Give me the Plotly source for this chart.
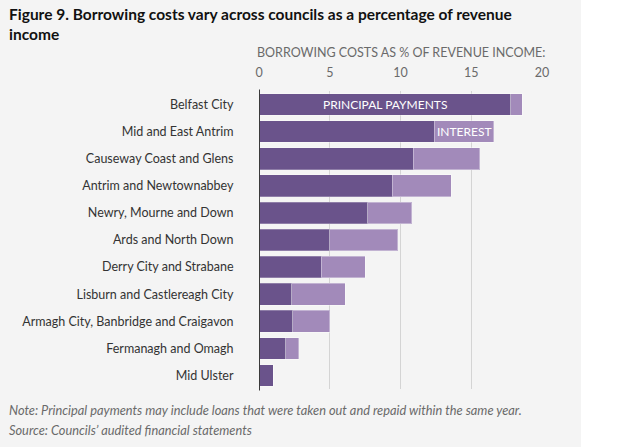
import plotly.graph_objects as go

councils = [
    "Belfast City",
    "Mid and East Antrim",
    "Causeway Coast and Glens",
    "Antrim and Newtownabbey",
    "Newry, Mourne and Down",
    "Ards and North Down",
    "Derry City and Strabane",
    "Lisburn and Castlereagh City",
    "Armagh City, Banbridge and Craigavon",
    "Fermanagh and Omagh",
    "Mid Ulster",
]
principal = [17.8, 12.4, 10.9, 9.4, 7.7, 5.0, 4.4, 2.3, 2.4, 1.9, 1.0]
interest = [0.8, 4.2, 4.7, 4.2, 3.1, 4.8, 3.1, 3.8, 2.6, 0.9, 0.0]
tick_vals = [0, 5, 10, 15, 20]

PRINC_COL = "#6a538b"
INT_COL = "#a28aba"
FONT = "Lato"

fig = go.Figure()
fig.add_trace(go.Bar(
    y=councils, x=principal, orientation="h", name="Principal payments",
    marker=dict(color=PRINC_COL, line=dict(color="rgba(255,255,255,0.25)", width=1)),
    hoverinfo="x+y",
))
fig.add_trace(go.Bar(
    y=councils, x=interest, orientation="h", name="Interest",
    marker=dict(color=INT_COL, line=dict(color="rgba(255,255,255,0.35)", width=1)),
    hoverinfo="x+y",
))

L, R, T, B = 259, 78, 91, 58
W, H = 620, 447
pw = W - L - R
ph = H - T - B

fig.update_layout(
    width=W, height=H,
    barmode="stack", bargap=0.2,
    showlegend=False,
    paper_bgcolor="white", plot_bgcolor="rgba(0,0,0,0)",
    margin=dict(l=L, r=R, t=T, b=B, autoexpand=False),
    font=dict(family=FONT, size=12, color="#333333"),
    xaxis=dict(
        range=[0, 20], side="top", tickvals=tick_vals,
        tickfont=dict(size=12.5, color="#6a6a6a"),
        ticks="outside", ticklen=8, tickcolor="rgba(0,0,0,0)",
        showgrid=True, gridcolor="#d4d4d4", gridwidth=1,
        zeroline=False, showline=False, fixedrange=True,
    ),
    yaxis=dict(
        autorange="reversed", ticks="outside", ticklen=22,
        tickcolor="rgba(0,0,0,0)", tickfont=dict(size=12.5, color="#333333"),
        showgrid=False, zeroline=False, showline=False,
    ),
    shapes=[
        dict(type="rect", xref="paper", yref="paper", layer="below",
             x0=-L / pw - 0.1, x1=(581 - L) / pw, y0=-2, y1=3,
             fillcolor="#f4f4f4", line=dict(width=0)),
        dict(type="line", xref="x", yref="paper", layer="above",
             x0=0, x1=0, y0=-0.005, y1=1.005,
             line=dict(color="#3a3a3a", width=2)),
    ],
)

annotations = [
    dict(text="<b>Figure 9. Borrowing costs vary across councils as a percentage of revenue<br>income</b>",
         xref="paper", yref="paper", x=(7 - L) / pw, y=(H - B - 3) / ph,
         xanchor="left", yanchor="top", align="left", showarrow=False,
         font=dict(family=FONT, size=15.5, color="#111111")),
    dict(text="BORROWING COSTS AS % OF REVENUE INCOME:",
         xref="paper", yref="paper", x=(401 - L) / pw, y=(H - B - 52) / ph,
         xanchor="center", yanchor="middle", showarrow=False,
         font=dict(family=FONT, size=12.5, color="#6a6a6a")),
    dict(text="<i>Note: Principal payments may include loans that were taken out and repaid within the same year.</i>",
         xref="paper", yref="paper", x=(7 - L) / pw, y=(H - B - 410) / ph,
         xanchor="left", yanchor="middle", showarrow=False,
         font=dict(family=FONT, size=12.8, color="#6a6a6a")),
    dict(text="<i>Source: Councils’ audited financial statements</i>",
         xref="paper", yref="paper", x=(7 - L) / pw, y=(H - B - 430) / ph,
         xanchor="left", yanchor="middle", showarrow=False,
         font=dict(family=FONT, size=12.8, color="#6a6a6a")),
    dict(text="PRINCIPAL PAYMENTS", xref="x", yref="y",
         x=principal[0] / 2, y=councils[0], showarrow=False,
         font=dict(family=FONT, size=12, color="white")),
    dict(text="INTEREST", xref="x", yref="y",
         x=principal[1] + interest[1] / 2, y=councils[1], showarrow=False,
         font=dict(family=FONT, size=12, color="white")),
]
fig.update_layout(annotations=annotations)

fig.write_html("out.html", config={"displayModeBar": False},
               post_script="document.body.style.margin='0px';")
